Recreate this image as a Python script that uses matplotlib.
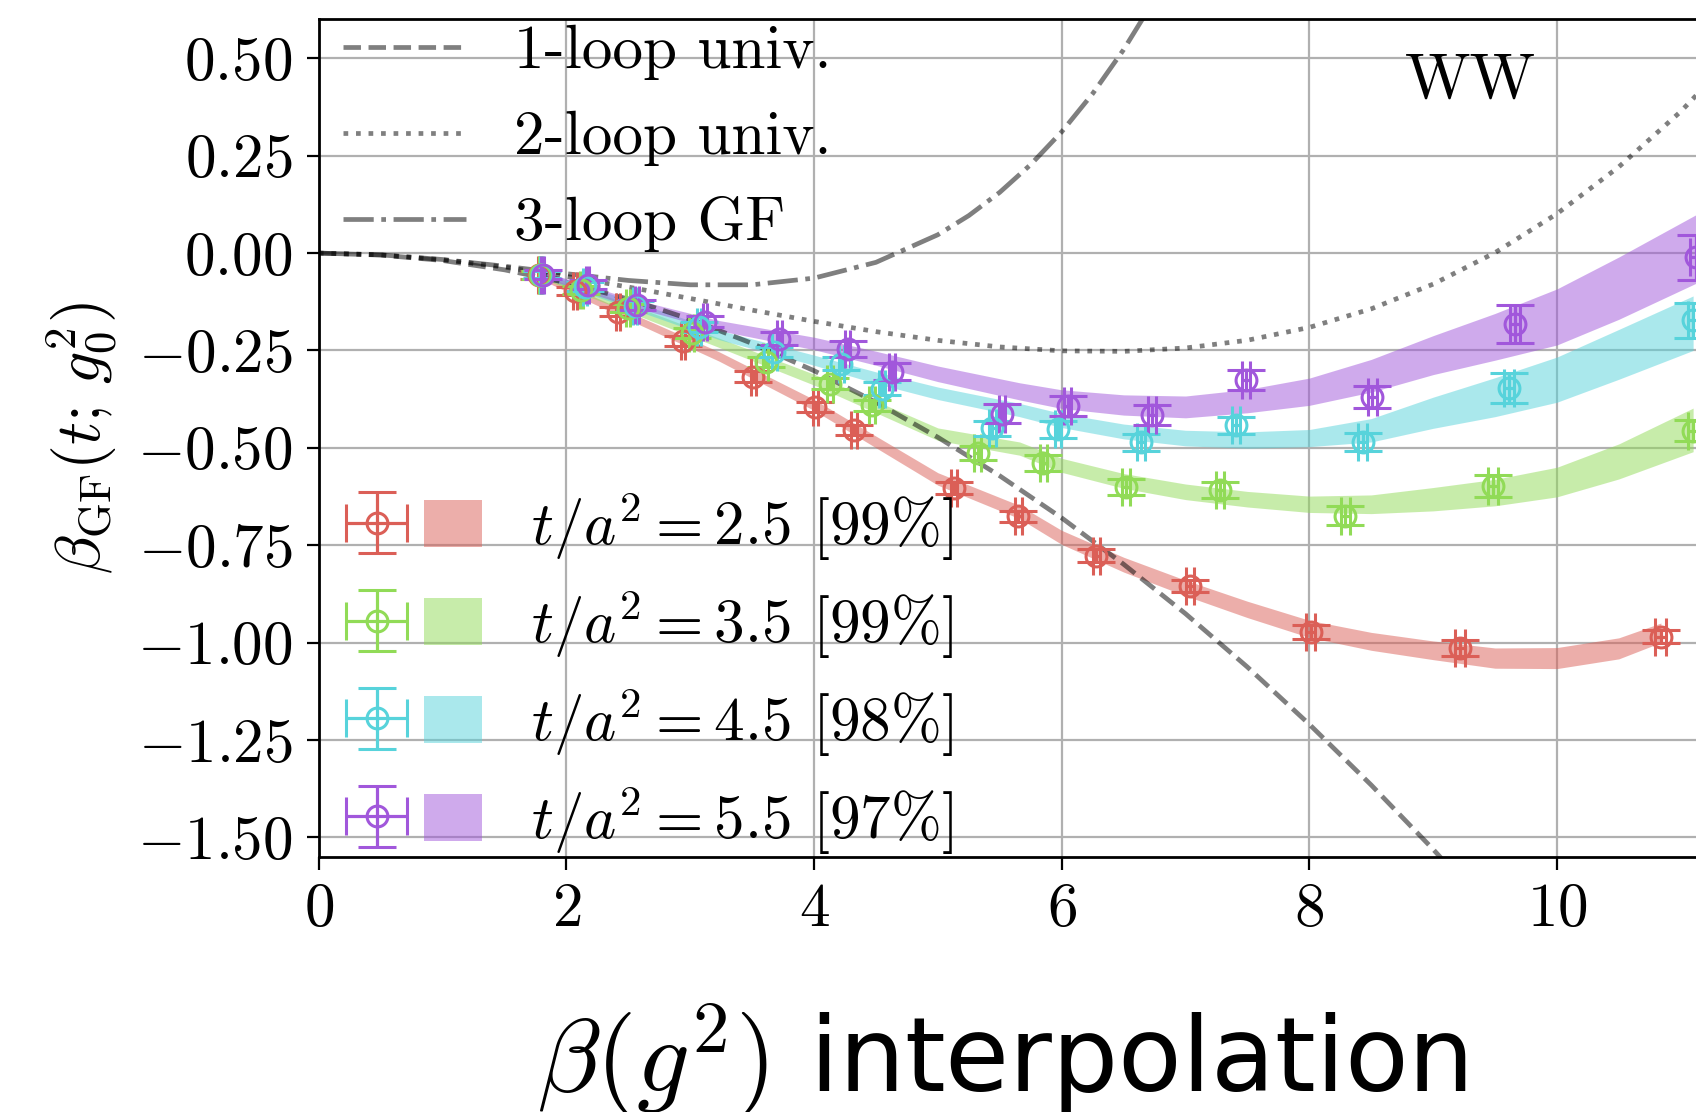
import matplotlib
matplotlib.use('Agg')
import matplotlib.pyplot as plt
from matplotlib.patches import Patch
from matplotlib.legend_handler import HandlerTuple

plt.rcParams['mathtext.fontset'] = 'cm'
plt.rcParams['font.family'] = ['cmr10', 'DejaVu Serif']
plt.rcParams['axes.formatter.use_mathtext'] = True

# ---- data ----
t_labels = [r'$t/a^2 = 2.5$ [99%]', r'$t/a^2 = 3.5$ [99%]',
            r'$t/a^2 = 4.5$ [98%]', r'$t/a^2 = 5.5$ [97%]']
colors = ['#db5f57', '#91db57', '#57d3db', '#a157db']

g2_25 = [1.78, 2.07, 2.42, 2.94, 3.51, 4.01, 4.32, 5.13, 5.65, 6.28, 7.04, 8.01, 9.22, 10.84]
b_25 = [-0.056, -0.097, -0.150, -0.226, -0.317, -0.395, -0.455, -0.604, -0.676, -0.777, -0.855, -0.973, -1.014, -0.985]
db_25 = [0.010, 0.010, 0.011, 0.012, 0.013, 0.013, 0.013, 0.015, 0.015, 0.016, 0.016, 0.017, 0.020, 0.017]

g2_35 = [1.79, 2.12, 2.50, 3.01, 3.61, 4.13, 4.47, 5.32, 5.85, 6.52, 7.28, 8.29, 9.48, 11.10]
b_35 = [-0.056, -0.094, -0.141, -0.205, -0.280, -0.335, -0.391, -0.513, -0.539, -0.601, -0.609, -0.674, -0.598, -0.456]
db_35 = [0.010, 0.010, 0.011, 0.012, 0.013, 0.014, 0.015, 0.018, 0.020, 0.020, 0.020, 0.024, 0.029, 0.027]

g2_45 = [1.80, 2.15, 2.55, 3.07, 3.68, 4.22, 4.55, 5.44, 5.97, 6.64, 7.41, 8.43, 9.61, 11.10]
b_45 = [-0.055, -0.086, -0.135, -0.190, -0.254, -0.284, -0.348, -0.450, -0.452, -0.486, -0.442, -0.486, -0.346, -0.173]
db_45 = [0.010, 0.011, 0.012, 0.013, 0.014, 0.016, 0.017, 0.020, 0.022, 0.022, 0.022, 0.023, 0.039, 0.045]

g2_55 = [1.81, 2.17, 2.57, 3.12, 3.72, 4.27, 4.63, 5.52, 6.05, 6.73, 7.49, 8.51, 9.66, 11.12]
b_55 = [-0.055, -0.081, -0.133, -0.176, -0.220, -0.246, -0.305, -0.412, -0.393, -0.416, -0.326, -0.369, -0.182, -0.011]
db_55 = [0.011, 0.012, 0.013, 0.015, 0.017, 0.020, 0.022, 0.024, 0.025, 0.025, 0.025, 0.028, 0.050, 0.058]

dg2 = [0.012, 0.014, 0.016, 0.018, 0.020, 0.022, 0.024, 0.026, 0.028, 0.030, 0.032, 0.035, 0.040, 0.045]

# interpolation bands: node positions, centre, half width
band_x_inner = [2.5, 3.23, 4.0, 4.5, 5.0, 5.66, 6.0, 6.5, 7.0, 7.5, 8.0, 8.5, 9.0, 9.5, 10.0, 10.5]
band_c_25 = [-0.058, -0.161, -0.265, -0.390, -0.485, -0.580, -0.665, -0.730, -0.800, -0.860, -0.915, -0.965, -0.997, -1.020, -1.040, -1.040, -1.015, -0.975]
band_w_25 = [0.008, 0.010, 0.012, 0.014, 0.015, 0.016, 0.017, 0.018, 0.019, 0.020, 0.021, 0.022, 0.023, 0.024, 0.026, 0.027, 0.027, 0.025]
band_c_35 = [-0.056, -0.141, -0.230, -0.325, -0.395, -0.465, -0.502, -0.545, -0.585, -0.613, -0.632, -0.645, -0.645, -0.632, -0.615, -0.588, -0.535, -0.454]
band_w_35 = [0.008, 0.010, 0.012, 0.014, 0.015, 0.016, 0.017, 0.018, 0.019, 0.020, 0.020, 0.021, 0.024, 0.030, 0.034, 0.038, 0.045, 0.056]
band_c_45 = [-0.055, -0.130, -0.210, -0.275, -0.320, -0.360, -0.403, -0.430, -0.458, -0.475, -0.480, -0.475, -0.455, -0.410, -0.370, -0.325, -0.260, -0.180]
band_w_45 = [0.008, 0.010, 0.012, 0.013, 0.015, 0.016, 0.017, 0.018, 0.019, 0.020, 0.021, 0.022, 0.030, 0.040, 0.050, 0.058, 0.064, 0.070]
band_c_55 = [-0.055, -0.125, -0.186, -0.232, -0.270, -0.310, -0.355, -0.375, -0.390, -0.395, -0.380, -0.356, -0.315, -0.262, -0.215, -0.164, -0.090, 0.010]
band_w_55 = [0.008, 0.010, 0.013, 0.016, 0.018, 0.020, 0.022, 0.024, 0.026, 0.028, 0.030, 0.035, 0.042, 0.050, 0.060, 0.072, 0.080, 0.088]

# perturbative curves
pt_x = [0.0, 0.5, 1.0, 1.5, 2.0, 2.5, 3.0, 3.5, 4.0, 4.5, 5.0, 5.5, 6.0, 6.5, 7.0, 7.5,
        8.0, 8.5, 9.0, 9.5, 10.0, 10.5, 11.0, 11.5]
loop1_y = [0.0, -0.005, -0.019, -0.043, -0.076, -0.118, -0.170, -0.232, -0.302, -0.383,
           -0.473, -0.572, -0.680, -0.799, -0.926, -1.063, -1.210, -1.366, -1.531, -1.706]
loop2_y = [0.0, -0.0045, -0.0169, -0.0359, -0.0598, -0.0872, -0.1166, -0.1465, -0.1753,
           -0.2017, -0.2241, -0.241, -0.251, -0.2523, -0.2437, -0.2238, -0.1908, -0.1432,
           -0.0797, 0.0011, 0.101, 0.2215, 0.3636, 0.5295]
gf3_x = [0.0, 0.5, 1.0, 1.5, 2.0, 2.5, 3.0, 3.5, 4.0, 4.5, 5.0, 5.25, 5.5, 5.75, 6.0,
         6.25, 6.5, 6.75, 7.0]
gf3_y = [0.0, -0.0045, -0.0165, -0.0337, -0.0529, -0.0702, -0.0814, -0.0814, -0.0642,
         -0.0237, 0.0472, 0.0964, 0.1562, 0.2275, 0.3115, 0.4095, 0.5224, 0.6515, 0.798]

series = [(g2_25, b_25, db_25, band_c_25, band_w_25),
          (g2_35, b_35, db_35, band_c_35, band_w_35),
          (g2_45, b_45, db_45, band_c_45, band_w_45),
          (g2_55, b_55, db_55, band_c_55, band_w_55)]

fig = plt.figure(figsize=(16.96, 11.12), dpi=100)
ax = fig.add_axes([0.188, 0.2296, 0.876, 0.7529])

FS = 44

handles = []
for (g2, b, db, bc, bw), col, lab in zip(series, colors, t_labels):
    bx = [g2[0]] + band_x_inner + [g2[-1]]
    lo = [c - w for c, w in zip(bc, bw)]
    hi = [c + w for c, w in zip(bc, bw)]
    ax.fill_between(bx, lo, hi, color=col, alpha=0.5, lw=0, zorder=2)
    eb = ax.errorbar(g2, b, yerr=db, xerr=dg2, fmt='o', mfc='none', mec=col,
                     ms=15, mew=2.2, ecolor=col, elinewidth=2.3, capsize=14,
                     capthick=2.3, zorder=4)
    handles.append((eb, Patch(facecolor=col, alpha=0.5, lw=0)))

l1, = ax.plot(pt_x[:len(loop1_y)], loop1_y, '--', color='k', alpha=0.5, lw=3.4, zorder=3)
l2, = ax.plot(pt_x, loop2_y, ':', color='k', alpha=0.5, lw=3.4, zorder=3)
l3, = ax.plot(gf3_x, gf3_y, '-.', color='k', alpha=0.5, lw=3.4, zorder=3)

ax.set_xlim(0, 12)
ax.set_ylim(-1.55, 0.6)
ax.set_xticks([0, 2, 4, 6, 8, 10, 12])
ax.set_yticks([-1.5, -1.25, -1.0, -0.75, -0.5, -0.25, 0.0, 0.25, 0.5])
ax.grid(True, color='#b0b0b0', lw=1.6, zorder=0)
ax.set_axisbelow(True)
ax.tick_params(labelsize=FS, direction='out', length=9, width=1.6, pad=10)
for sp in ax.spines.values():
    sp.set_linewidth(2)

ax.set_ylabel(r'$\beta_{\mathrm{GF}}(t;\,g_0^2)$', fontsize=46, labelpad=12)

leg1 = ax.legend([l1, l2, l3], ['1-loop univ.', '2-loop univ.', '3-loop GF'],
                 loc='upper left', bbox_to_anchor=(0.0, 1.023), frameon=False,
                 fontsize=FS, handlelength=2.0, handletextpad=0.8,
                 borderaxespad=0.2, borderpad=0.2, labelspacing=0.5)
ax.add_artist(leg1)
ax.legend(handles, t_labels, loc='lower left', bbox_to_anchor=(0.003, -0.029),
          frameon=False, fontsize=FS,
          handler_map={tuple: HandlerTuple(ndivide=None, pad=0.3)},
          handlelength=2.2, handleheight=0.8, handletextpad=0.8,
          borderaxespad=0.2, borderpad=0.2, labelspacing=0.41)

ax.text(9.3, 0.44, 'WW', fontsize=46, ha='center', va='center')

fig.text(0.591, 0.018, r'$\beta(g^2)$ interpolation', fontsize=75,
         family='DejaVu Sans', ha='center', va='baseline')

fig.savefig('out.png', dpi=100)
